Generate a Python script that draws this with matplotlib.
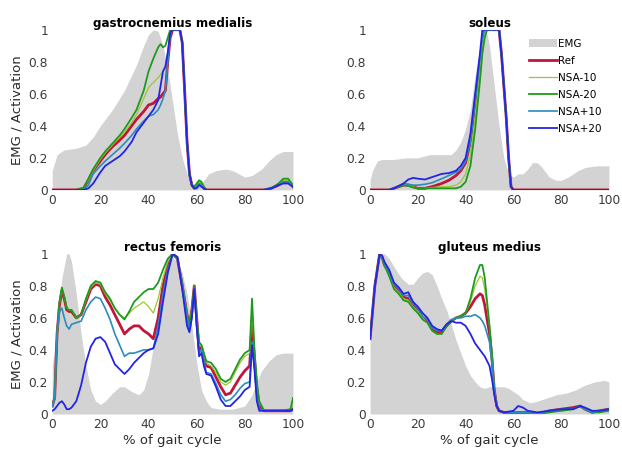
import numpy as np
import matplotlib
matplotlib.use("Agg")
import matplotlib.pyplot as plt

# ---- gastrocnemius medialis ----
gas_emg_x = [0, 2, 5, 10, 14, 17, 20, 25, 30, 35, 38, 40, 42, 44, 46, 48, 50, 52, 54, 56, 58, 60, 62, 65, 68, 72, 75, 80, 83, 87, 90, 93, 96, 100]
gas_emg = [0.12, 0.22, 0.25, 0.26, 0.28, 0.33, 0.40, 0.50, 0.62, 0.78, 0.90, 0.97, 1.00, 0.99, 0.90, 0.75, 0.55, 0.35, 0.20, 0.10, 0.04, 0.03, 0.04, 0.10, 0.12, 0.13, 0.12, 0.08, 0.09, 0.13, 0.18, 0.22, 0.24, 0.24]
gas_x = [0, 10, 13, 15, 17, 20, 22, 25, 28, 30, 33, 35, 38, 40, 42, 44, 45, 46, 47, 48, 49, 50, 53, 54, 55, 56, 57, 58, 59, 60, 61, 62, 63, 64, 70, 80, 88, 91, 94, 96, 98, 100]
gas_ref = [0, 0, 0.01, 0.06, 0.12, 0.18, 0.22, 0.27, 0.31, 0.34, 0.40, 0.44, 0.49, 0.53, 0.54, 0.57, 0.58, 0.60, 0.62, 0.80, 0.95, 1.0, 1.0, 0.92, 0.62, 0.30, 0.10, 0.03, 0.01, 0.02, 0.04, 0.03, 0.01, 0, 0, 0, 0, 0.01, 0.03, 0.05, 0.05, 0.02]
gas_m10 = [0, 0, 0.01, 0.06, 0.12, 0.19, 0.23, 0.28, 0.33, 0.36, 0.42, 0.47, 0.57, 0.64, 0.67, 0.70, 0.72, 0.74, 0.76, 0.86, 1.0, 1.0, 1.0, 0.92, 0.62, 0.30, 0.10, 0.03, 0.02, 0.03, 0.05, 0.04, 0.01, 0, 0, 0, 0, 0.01, 0.04, 0.06, 0.06, 0.03]
gas_m20 = [0, 0, 0.01, 0.07, 0.13, 0.20, 0.24, 0.29, 0.34, 0.38, 0.45, 0.50, 0.62, 0.74, 0.82, 0.89, 0.91, 0.89, 0.90, 0.95, 1.0, 1.0, 1.0, 0.92, 0.62, 0.30, 0.10, 0.03, 0.02, 0.04, 0.06, 0.05, 0.02, 0, 0, 0, 0, 0.01, 0.04, 0.07, 0.07, 0.03]
gas_p10 = [0, 0, 0, 0.03, 0.10, 0.15, 0.18, 0.22, 0.26, 0.29, 0.34, 0.38, 0.43, 0.46, 0.47, 0.50, 0.53, 0.57, 0.62, 0.80, 0.97, 1.0, 1.0, 0.92, 0.62, 0.30, 0.10, 0.03, 0.01, 0.02, 0.04, 0.03, 0.01, 0, 0, 0, 0, 0.01, 0.03, 0.05, 0.05, 0.02]
gas_p20 = [0, 0, 0, 0.01, 0.04, 0.11, 0.15, 0.18, 0.21, 0.24, 0.30, 0.36, 0.42, 0.46, 0.50, 0.56, 0.65, 0.74, 0.77, 0.86, 0.98, 1.0, 1.0, 0.92, 0.62, 0.30, 0.10, 0.03, 0.01, 0.01, 0.03, 0.02, 0.01, 0, 0, 0, 0, 0.01, 0.03, 0.04, 0.04, 0.02]

# ---- soleus ----
sol_emg_x = [0, 1, 3, 5, 10, 15, 20, 25, 30, 34, 36, 38, 40, 42, 44, 46, 48, 49, 50, 52, 54, 56, 58, 60, 62, 64, 66, 68, 70, 72, 75, 78, 80, 83, 87, 90, 95, 100]
sol_emg = [0.06, 0.12, 0.18, 0.19, 0.19, 0.20, 0.20, 0.22, 0.22, 0.22, 0.25, 0.30, 0.38, 0.50, 0.72, 0.90, 0.98, 0.97, 0.90, 0.65, 0.40, 0.20, 0.10, 0.08, 0.10, 0.10, 0.13, 0.17, 0.17, 0.14, 0.08, 0.06, 0.06, 0.08, 0.12, 0.14, 0.15, 0.15]
sol_x = [0, 8, 10, 12, 14, 16, 18, 20, 23, 26, 30, 33, 36, 38, 40, 42, 44, 46, 47, 48, 49, 54, 55, 56, 57, 58, 59, 60, 100]
sol_ref = [0, 0, 0.01, 0.02, 0.03, 0.03, 0.02, 0.01, 0.01, 0.02, 0.04, 0.06, 0.09, 0.12, 0.17, 0.30, 0.55, 0.80, 0.93, 1.0, 1.0, 1.0, 0.85, 0.65, 0.45, 0.20, 0.02, 0, 0]
sol_m10 = [0, 0, 0.01, 0.02, 0.035, 0.03, 0.02, 0.01, 0.01, 0.015, 0.02, 0.02, 0.03, 0.05, 0.10, 0.22, 0.45, 0.75, 0.90, 0.98, 1.0, 1.0, 0.85, 0.65, 0.45, 0.20, 0.02, 0, 0]
sol_m20 = [0, 0, 0.01, 0.02, 0.03, 0.025, 0.015, 0.01, 0.01, 0.01, 0.01, 0.01, 0.01, 0.02, 0.05, 0.15, 0.38, 0.68, 0.85, 0.95, 1.0, 1.0, 0.85, 0.65, 0.45, 0.20, 0.02, 0, 0]
sol_p10 = [0, 0, 0.01, 0.025, 0.04, 0.035, 0.03, 0.03, 0.035, 0.045, 0.07, 0.09, 0.11, 0.13, 0.18, 0.30, 0.55, 0.82, 0.95, 1.0, 1.0, 1.0, 0.85, 0.65, 0.45, 0.20, 0.02, 0, 0]
sol_p20 = [0, 0, 0.01, 0.025, 0.04, 0.065, 0.075, 0.07, 0.065, 0.08, 0.10, 0.105, 0.12, 0.15, 0.20, 0.35, 0.60, 0.85, 1.0, 1.0, 1.0, 1.0, 0.85, 0.65, 0.45, 0.20, 0.02, 0, 0]

# ---- rectus femoris ----
rf_emg_x = [0, 2, 4, 6, 7, 8, 10, 12, 14, 16, 18, 20, 22, 25, 28, 30, 33, 36, 38, 40, 42, 44, 46, 48, 50, 52, 54, 56, 58, 60, 62, 64, 66, 70, 75, 80, 83, 85, 87, 90, 93, 96, 100]
rf_emg = [0.30, 0.55, 0.85, 1.0, 1.0, 0.95, 0.75, 0.50, 0.30, 0.15, 0.08, 0.06, 0.08, 0.13, 0.17, 0.17, 0.14, 0.12, 0.15, 0.25, 0.42, 0.62, 0.80, 0.93, 0.98, 0.95, 0.88, 0.75, 0.55, 0.32, 0.15, 0.08, 0.04, 0.03, 0.03, 0.05, 0.12, 0.20, 0.27, 0.33, 0.37, 0.38, 0.38]
rf_x = [0, 1, 2, 3, 4, 5, 6, 7, 8, 10, 12, 14, 16, 18, 20, 22, 24, 26, 28, 30, 32, 34, 36, 38, 40, 42, 44, 46, 48, 50, 52, 54, 56, 57, 58, 59, 60, 61, 62, 63, 64, 66, 68, 70, 72, 74, 76, 78, 80, 82, 83, 84, 85, 86, 88, 95, 99, 100]
rf_ref = [0.05, 0.10, 0.50, 0.68, 0.77, 0.72, 0.65, 0.64, 0.64, 0.60, 0.62, 0.70, 0.78, 0.81, 0.80, 0.73, 0.68, 0.62, 0.56, 0.50, 0.53, 0.55, 0.55, 0.52, 0.50, 0.47, 0.60, 0.80, 0.93, 1.0, 0.97, 0.80, 0.62, 0.55, 0.65, 0.80, 0.60, 0.40, 0.42, 0.35, 0.30, 0.29, 0.23, 0.17, 0.12, 0.13, 0.18, 0.23, 0.27, 0.30, 0.55, 0.35, 0.15, 0.05, 0.02, 0.02, 0.02, 0.03]
rf_m10 = [0.05, 0.10, 0.50, 0.69, 0.78, 0.73, 0.66, 0.65, 0.65, 0.60, 0.62, 0.71, 0.79, 0.82, 0.81, 0.75, 0.71, 0.66, 0.62, 0.60, 0.63, 0.66, 0.68, 0.70, 0.67, 0.63, 0.72, 0.85, 0.95, 1.0, 0.97, 0.81, 0.62, 0.55, 0.65, 0.80, 0.60, 0.43, 0.42, 0.37, 0.32, 0.30, 0.26, 0.20, 0.18, 0.20, 0.26, 0.32, 0.36, 0.38, 0.65, 0.38, 0.18, 0.07, 0.02, 0.02, 0.03, 0.05]
rf_m20 = [0.05, 0.10, 0.50, 0.70, 0.79, 0.73, 0.66, 0.65, 0.65, 0.60, 0.62, 0.72, 0.80, 0.83, 0.82, 0.76, 0.72, 0.66, 0.62, 0.59, 0.64, 0.70, 0.73, 0.76, 0.78, 0.78, 0.82, 0.90, 0.97, 1.0, 0.97, 0.82, 0.62, 0.55, 0.65, 0.80, 0.60, 0.45, 0.43, 0.38, 0.33, 0.32, 0.28, 0.22, 0.20, 0.22, 0.28, 0.34, 0.38, 0.40, 0.72, 0.40, 0.20, 0.08, 0.02, 0.02, 0.03, 0.10]
rf_p10 = [0.05, 0.10, 0.50, 0.64, 0.66, 0.60, 0.55, 0.53, 0.56, 0.57, 0.58, 0.65, 0.70, 0.73, 0.72, 0.66, 0.59, 0.50, 0.43, 0.36, 0.38, 0.38, 0.39, 0.40, 0.40, 0.41, 0.55, 0.75, 0.90, 1.0, 0.98, 0.80, 0.60, 0.52, 0.60, 0.78, 0.55, 0.38, 0.40, 0.33, 0.26, 0.25, 0.19, 0.12, 0.08, 0.09, 0.12, 0.16, 0.19, 0.20, 0.45, 0.30, 0.10, 0.03, 0.02, 0.02, 0.02, 0.03]
rf_p20 = [0.02, 0.03, 0.05, 0.07, 0.08, 0.06, 0.03, 0.03, 0.04, 0.08, 0.18, 0.32, 0.42, 0.47, 0.48, 0.45, 0.38, 0.31, 0.28, 0.25, 0.28, 0.32, 0.35, 0.38, 0.40, 0.41, 0.50, 0.70, 0.88, 1.0, 0.98, 0.78, 0.55, 0.51, 0.60, 0.78, 0.55, 0.36, 0.38, 0.30, 0.25, 0.24, 0.17, 0.09, 0.05, 0.05, 0.08, 0.11, 0.15, 0.17, 0.43, 0.28, 0.08, 0.02, 0.02, 0.02, 0.02, 0.03]

# ---- gluteus medius ----
glu_emg_x = [0, 1, 3, 4, 6, 8, 10, 13, 16, 18, 20, 22, 24, 26, 28, 30, 32, 34, 36, 38, 40, 42, 44, 46, 48, 50, 52, 54, 56, 58, 60, 62, 64, 67, 70, 74, 78, 82, 86, 90, 94, 98, 100]
glu_emg = [0.47, 0.60, 0.90, 1.0, 1.0, 0.97, 0.92, 0.85, 0.81, 0.81, 0.85, 0.88, 0.89, 0.87, 0.80, 0.72, 0.65, 0.56, 0.46, 0.38, 0.30, 0.24, 0.20, 0.17, 0.16, 0.17, 0.17, 0.17, 0.17, 0.16, 0.14, 0.12, 0.09, 0.07, 0.08, 0.10, 0.12, 0.13, 0.15, 0.18, 0.20, 0.21, 0.20]
glu_x = [0, 2, 4, 5, 6, 8, 10, 12, 14, 16, 18, 20, 22, 24, 26, 28, 30, 32, 34, 36, 38, 40, 42, 44, 46, 47, 48, 50, 51, 52, 53, 54, 56, 60, 62, 64, 66, 70, 75, 80, 85, 88, 90, 93, 96, 100]
glu_ref = [0.47, 0.80, 1.0, 0.98, 0.93, 0.88, 0.80, 0.77, 0.73, 0.72, 0.68, 0.65, 0.60, 0.58, 0.53, 0.51, 0.51, 0.55, 0.58, 0.60, 0.61, 0.63, 0.67, 0.72, 0.75, 0.74, 0.68, 0.50, 0.35, 0.15, 0.05, 0.02, 0.01, 0.01, 0.01, 0.01, 0.01, 0.0, 0.02, 0.03, 0.04, 0.05, 0.03, 0.01, 0.02, 0.03]
glu_m10 = [0.47, 0.80, 1.0, 0.98, 0.93, 0.87, 0.79, 0.76, 0.72, 0.71, 0.67, 0.64, 0.60, 0.57, 0.52, 0.50, 0.50, 0.55, 0.58, 0.60, 0.61, 0.63, 0.70, 0.80, 0.86, 0.85, 0.78, 0.55, 0.37, 0.15, 0.05, 0.02, 0.01, 0.01, 0.01, 0.01, 0.01, 0.0, 0.02, 0.02, 0.03, 0.05, 0.03, 0.01, 0.02, 0.03]
glu_m20 = [0.47, 0.80, 1.0, 0.98, 0.93, 0.86, 0.78, 0.75, 0.71, 0.70, 0.66, 0.63, 0.59, 0.57, 0.52, 0.50, 0.50, 0.55, 0.58, 0.60, 0.61, 0.63, 0.72, 0.85, 0.93, 0.93, 0.85, 0.55, 0.38, 0.15, 0.05, 0.02, 0.01, 0.01, 0.01, 0.01, 0.01, 0.0, 0.01, 0.02, 0.03, 0.05, 0.03, 0.01, 0.01, 0.02]
glu_p10 = [0.47, 0.80, 1.0, 0.98, 0.94, 0.89, 0.81, 0.78, 0.74, 0.74, 0.69, 0.66, 0.61, 0.59, 0.54, 0.52, 0.52, 0.56, 0.59, 0.60, 0.60, 0.61, 0.61, 0.62, 0.60, 0.58, 0.55, 0.45, 0.32, 0.15, 0.05, 0.02, 0.01, 0.01, 0.01, 0.01, 0.01, 0.0, 0.02, 0.03, 0.03, 0.05, 0.03, 0.01, 0.02, 0.03]
glu_p20 = [0.47, 0.80, 1.0, 0.99, 0.95, 0.90, 0.82, 0.79, 0.75, 0.76, 0.70, 0.67, 0.63, 0.60, 0.55, 0.53, 0.52, 0.56, 0.58, 0.57, 0.57, 0.55, 0.50, 0.44, 0.40, 0.38, 0.36, 0.30, 0.22, 0.12, 0.05, 0.02, 0.01, 0.02, 0.05, 0.04, 0.02, 0.01, 0.02, 0.03, 0.03, 0.05, 0.04, 0.02, 0.02, 0.03]

titles = ["gastrocnemius medialis", "soleus", "rectus femoris", "gluteus medius"]
labels = ["Ref", "NSA-10", "NSA-20", "NSA+10", "NSA+20"]
colors = ["#c0163a", "#9cc631", "#1e9a1e", "#2a8cc0", "#2424e6"]
widths = [2.0, 0.9, 1.3, 1.2, 1.3]

panels = [
    (gas_emg_x, gas_emg, gas_x, [gas_ref, gas_m10, gas_m20, gas_p10, gas_p20]),
    (sol_emg_x, sol_emg, sol_x, [sol_ref, sol_m10, sol_m20, sol_p10, sol_p20]),
    (rf_emg_x, rf_emg, rf_x, [rf_ref, rf_m10, rf_m20, rf_p10, rf_p20]),
    (glu_emg_x, glu_emg, glu_x, [glu_ref, glu_m10, glu_m20, glu_p10, glu_p20]),
]

fig = plt.figure(figsize=(6.22, 4.5), dpi=100)
rects = [
    [0.084, 0.578, 0.387, 0.356],
    [0.595, 0.578, 0.384, 0.356],
    [0.084, 0.080, 0.387, 0.356],
    [0.595, 0.080, 0.384, 0.356],
]

for k, (ex, ey, lx, series) in enumerate(panels):
    ax = fig.add_axes(rects[k])
    ax.fill_between(ex, 0, ey, color="#d3d3d3", linewidth=0, label="EMG")
    for ys, lab, c, w in zip(series, labels, colors, widths):
        ax.plot(lx, ys, color=c, lw=w, label=lab)
    ax.set_xlim(0, 100)
    ax.set_ylim(0, 1)
    ax.set_xticks([0, 20, 40, 60, 80, 100])
    ax.set_yticks([0, 0.2, 0.4, 0.6, 0.8, 1])
    ax.set_yticklabels(["0", "0.2", "0.4", "0.6", "0.8", "1"])
    ax.tick_params(length=0, labelsize=8.8, colors="#3a3a3a", pad=3)
    for s in ax.spines.values():
        s.set_visible(False)
    ax.set_title(titles[k], fontsize=8.6, fontweight="bold", pad=2)
    if k % 2 == 0:
        ax.set_ylabel("EMG / Activation", fontsize=9.5, color="#2a2a2a")
    if k >= 2:
        ax.set_xlabel("% of gait cycle", fontsize=9.5, color="#2a2a2a", labelpad=2)
    if k == 1:
        ax.legend(loc="upper right", frameon=False, fontsize=7.5, handlelength=2.7,
                  labelspacing=0.68, borderaxespad=0.3, handletextpad=0.1,
                  bbox_to_anchor=(1.0, 0.99))

fig.savefig("out.png", dpi=100)
